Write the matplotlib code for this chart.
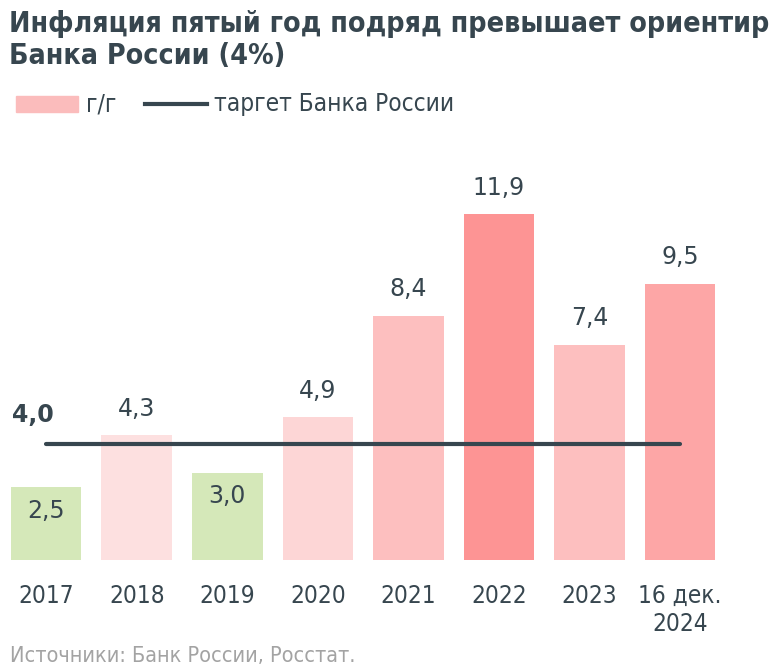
import matplotlib
matplotlib.use('Agg')
import matplotlib.pyplot as plt
from matplotlib.patches import Rectangle
from matplotlib.lines import Line2D

# данные
years = ['2017', '2018', '2019', '2020', '2021', '2022', '2023', '16 дек.\n2024']
infl = [2.5, 4.3, 3.0, 4.9, 8.4, 11.9, 7.4, 9.5]
bar_colors = ['#d5e8b9', '#fde0e0', '#d5e8b9', '#fdd6d6', '#fdbfbf', '#fd9494', '#fdbfbf', '#fda6a6']
target = 4.0
val_labels = ['2,5', '4,3', '3,0', '4,9', '8,4', '11,9', '7,4', '9,5']

dark = '#37464f'
narrow = dict(family='DejaVu Sans', fontstretch='condensed')

fig = plt.figure(figsize=(7.76, 6.71), dpi=100)
ax = fig.add_axes([0, 0.1654, 1, 0.5638])

x = list(range(len(years)))
ax.bar(x, infl, width=0.78, color=bar_colors)
ax.plot([x[0], x[-1]], [target, target], color=dark, lw=3, solid_capstyle='round')

for i, v in enumerate(infl):
    if v < target:
        ax.text(i, v - 0.8, val_labels[i], ha='center', va='center', fontsize=17, color=dark)
    else:
        ax.text(i, v + 0.9, val_labels[i], ha='center', va='center', fontsize=17, color=dark)

ax.text(-0.15, target + 1.0, '4,0', ha='center', va='center', fontsize=17, fontweight='bold', color=dark)

ax.set_xlim(-0.51, 8.06)
ax.set_ylim(0, 13)
ax.set_xticks(x)
ax.set_xticklabels(years, fontsize=17.5, color=dark, linespacing=1.25, **narrow)
ax.tick_params(axis='x', length=0, pad=17)
ax.set_yticks([])
for s in ax.spines.values():
    s.set_visible(False)

fig.text(0.012, 0.985, 'Инфляция пятый год подряд превышает ориентир\nБанка России (4%)',
         ha='left', va='top', fontsize=20.5, fontweight='bold', color=dark,
         linespacing=1.2, **narrow)

# легенда
fig.add_artist(Rectangle((16 / 776, 1 - 112 / 671), 62 / 776, 16 / 671,
                         transform=fig.transFigure, color='#fbbcbc'))
fig.text(86 / 776, 1 - 104 / 671, 'г/г', ha='left', va='center', fontsize=17.5,
         color=dark, **narrow)
fig.add_artist(Line2D([145 / 776, 207 / 776], [1 - 104 / 671, 1 - 104 / 671],
                      transform=fig.transFigure, color=dark, lw=3))
fig.text(214 / 776, 1 - 104 / 671, 'таргет Банка России', ha='left', va='center',
         fontsize=17.5, color=dark, **narrow)

fig.text(10 / 776, 1 - 656 / 671, 'Источники: Банк России, Росстат.', ha='left',
         va='center', fontsize=15.5, color='#a3a3a3', **narrow)

fig.savefig('out.png', dpi=100)
